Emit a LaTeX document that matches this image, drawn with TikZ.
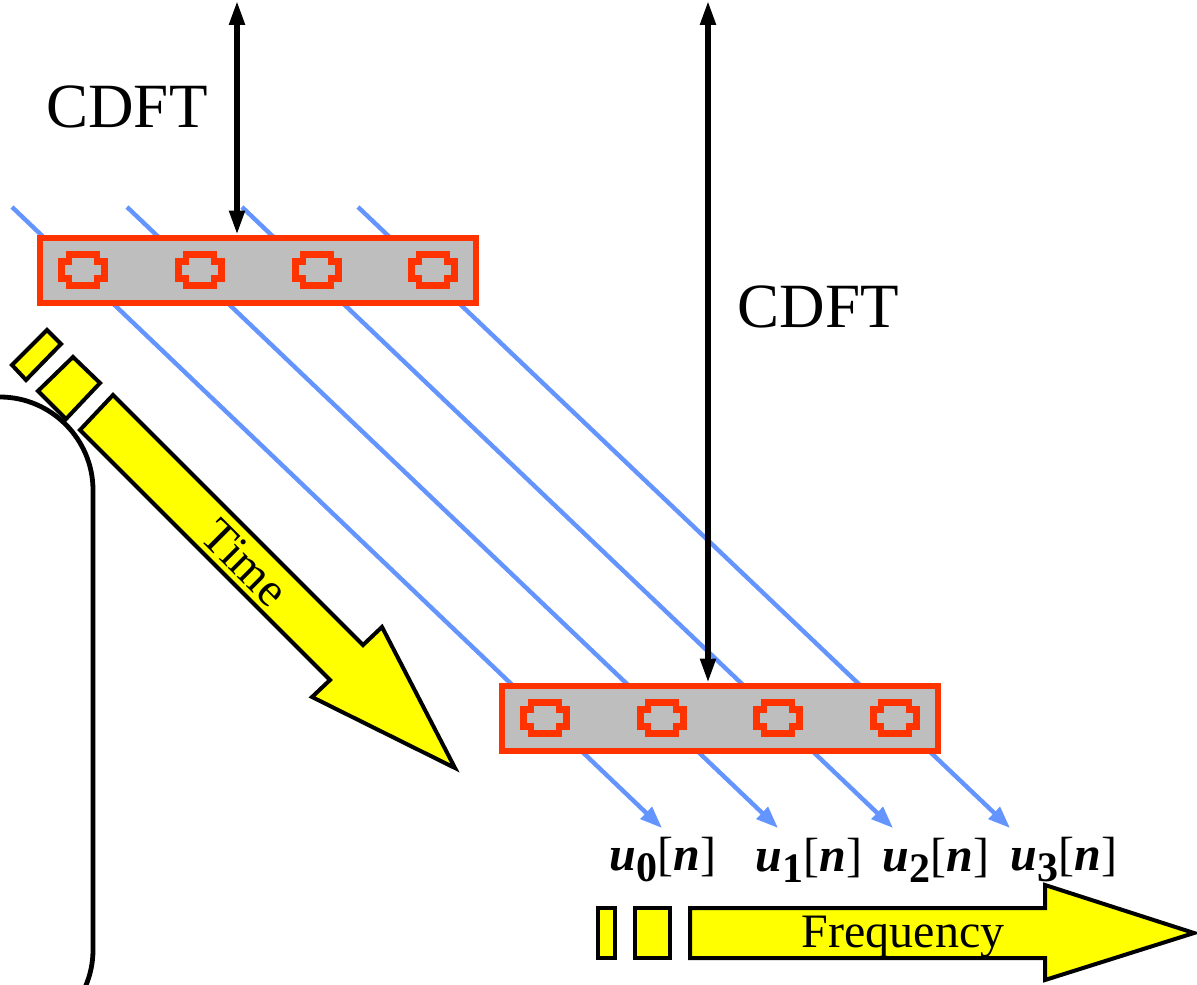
\documentclass[tikz,border=0pt]{standalone}
\usepackage{fontspec}
\setmainfont{Liberation Serif}
\usetikzlibrary{arrows.meta}
\definecolor{cblue}{RGB}{100,149,255}
\definecolor{cred}{RGB}{255,51,0}
\definecolor{cgray}{RGB}{190,190,190}
\definecolor{cyel}{RGB}{255,255,0}
\newcommand\ulab[1]{\textbf{\textit{u}}\raisebox{-5.5pt}{\fontsize{21}{21}\selectfont\bfseries #1}[\textbf{\textit{n}}]}
\begin{document}
\begin{tikzpicture}[x=0.5pt,y=-0.5pt,
  bank/.style={draw=cred, fill=cgray, line width=3pt, minimum width=218pt, minimum height=32.5pt, inner sep=0pt},
  flow/.style={draw=cblue, line width=2.2pt, -{Triangle[length=11pt,width=8pt]}},
  cdft/.style={black, line width=2.6pt, {Triangle[length=12pt,width=7.5pt]}-{Triangle[length=12pt,width=7.5pt]}},
  yel/.style={draw=black, fill=cyel, line width=2pt, line join=miter},
  big/.style={font=\fontsize{31.5}{31.5}\selectfont, inner sep=0pt},
  mid/.style={font=\fontsize{24}{24}\selectfont, inner sep=0pt},
  ulabel/.style={font=\fontsize{24}{24}\selectfont, inner sep=0pt},
  pics/cell/.style={code={
    \draw[cred, line width=3.4pt] (-14,-15.5) -- (14,-15.5) -- (14,-8.5) -- (21.5,-8.5) -- (21.5,8.5) -- (14,8.5) -- (14,15.5) -- (-14,15.5) -- (-14,8.5) -- (-21.5,8.5) -- (-21.5,-8.5) -- (-14,-8.5) -- cycle;
  }}]
\useasboundingbox (0,0) rectangle (1197,984);
\clip (0,0) rectangle (1197,984);

% blue flow lines
\foreach \i/\sx/\ex in {0/12/662, 1/127/778, 2/242/893, 3/358/1010} {
  \coordinate (s\i) at (\sx,207);
  \coordinate (e\i) at (\ex,828);
  \draw[flow] (s\i) -- (e\i);
}

% filter banks
\node[bank] (bankA) at (257.5,270) {};
\node[bank] (bankB) at (719.5,718) {};
\foreach \x in {83,200,317,433} \pic at (\x,270) {cell};
\foreach \x in {545,662,778,895} \pic at (\x,718) {cell};

% CDFT arrows
\coordinate (topA) at (237,1);
\coordinate (topB) at (708,1);
\draw[cdft] (topA) -- (bankA.north -| topA);
\draw[cdft] (topB) -- (bankB.north -| topB);
\node[big] (cdftA) at (127,107) {CDFT};
\node[big] (cdftB) at (818,307) {CDFT};

% outputs
\node[ulabel] (u0) at (663,860) {\ulab{0}};
\node[ulabel] (u1) at (809,860) {\ulab{1}};
\node[ulabel] (u2) at (936,860) {\ulab{2}};
\node[ulabel] (u3) at (1064,860) {\ulab{3}};

% curved border
\draw[black, line width=2.4pt] (0,397) .. controls (51,397) and (93,439) .. (93,490) -- (93,950) .. controls (93,1001) and (51,1043) .. (0,1043);

% time arrow
\draw[yel] (47,330) -- (61,344) -- (26,380) -- (12,365) -- cycle;
\draw[yel] (73,357) -- (100,383) -- (66,419) -- (38,391) -- cycle;
\draw[yel] (113,395) -- (363,645) -- (382,627) -- (455,768) -- (312,697) -- (330,680) -- (80,430) -- cycle;
\node[mid, rotate=-45] (time) at (245,563) {Time};

% frequency arrow
\draw[yel] (598,908) rectangle (615,958);
\draw[yel] (635,908) rectangle (670,958);
\draw[yel] (690,908) -- (1045,908) -- (1045,885) -- (1194,933) -- (1045,980) -- (1045,958) -- (690,958) -- cycle;
\node[mid] (freq) at (903,937) {Frequency};
\end{tikzpicture}
\end{document}
